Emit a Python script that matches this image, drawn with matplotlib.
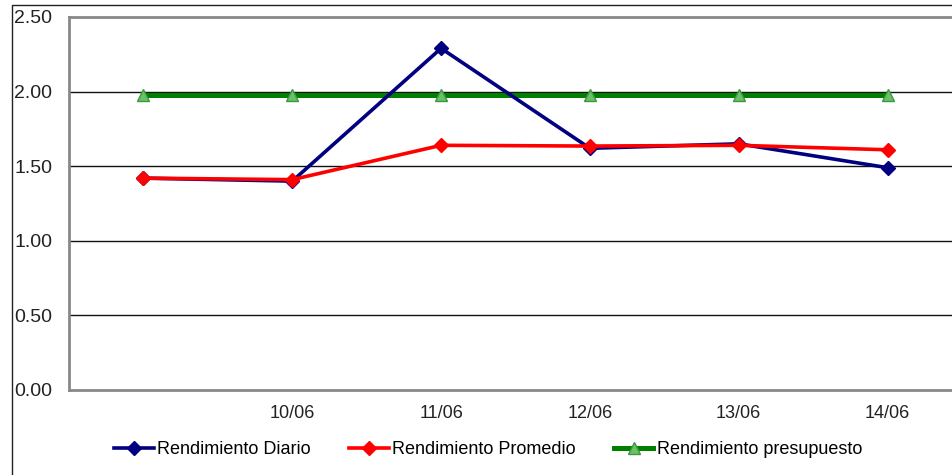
import matplotlib
matplotlib.use("Agg")
import matplotlib.pyplot as plt
from matplotlib.lines import Line2D

plt.rcParams['font.family'] = ['Liberation Sans', 'DejaVu Sans']

# Data
categories = ["", "10/06", "11/06", "12/06", "13/06", "14/06"]
rend_diario = [1.42, 1.40, 2.29, 1.62, 1.65, 1.49]
rend_promedio = [1.42, 1.41, 1.64, 1.635, 1.64, 1.61]
rend_presupuesto = [1.98, 1.98, 1.98, 1.98, 1.98, 1.98]
y_ticks = [0.0, 0.5, 1.0, 1.5, 2.0, 2.5]

W, H = 952, 475
fig = plt.figure(figsize=(W / 100, H / 100), dpi=100)
fig.patch.set_facecolor("white")

# Outer chart frame (left and top edges)
fig.add_artist(Line2D([12 / W, 12 / W, 1.0], [0.0, 1 - 5 / H, 1 - 5 / H],
                      transform=fig.transFigure, color="#222222", lw=1.0))

left, right, top, bottom = 69, 962, 17, 390
ax = fig.add_axes([left / W, 1 - bottom / H, (right - left) / W, (bottom - top) / H])
ax.set_xlim(-0.5, len(categories) - 0.5)
ax.set_ylim(0, 2.5)

x = list(range(len(categories)))
ax.plot(x, rend_presupuesto, color="#008000", lw=3.6, marker="^", markersize=9,
        markerfacecolor="#6cbf6c", markeredgecolor="#3a9a3a", markeredgewidth=1.0,
        label="Rendimiento presupuesto", zorder=3)
ax.plot(x, rend_diario, color="#000080", lw=2.6, marker="D", markersize=7.5,
        markerfacecolor="#000080", markeredgecolor="#000080",
        label="Rendimiento Diario", zorder=4)
ax.plot(x, rend_promedio, color="#ff0000", lw=2.6, marker="D", markersize=7.5,
        markerfacecolor="#ff0000", markeredgecolor="#ff0000",
        label="Rendimiento Promedio", zorder=5)

ax.set_yticks(y_ticks)
ax.set_yticklabels([f"{v:.2f}" for v in y_ticks], fontsize=14, color="#222222")
ax.set_xticks(x)
ax.set_xticklabels(categories, fontsize=13, color="#222222")
ax.tick_params(axis="y", length=0, pad=12)
ax.tick_params(axis="x", length=0, pad=11)

for v in y_ticks[1:-1]:
    ax.axhline(v, color="#111111", lw=1.0, zorder=1)

for side in ("left", "top", "bottom"):
    ax.spines[side].set_color("#888888")
    ax.spines[side].set_linewidth(2.0)
ax.spines["right"].set_visible(False)

handles, labels = ax.get_legend_handles_labels()
order = [1, 2, 0]
leg = fig.legend([handles[i] for i in order], [labels[i] for i in order],
                 loc="center left", bbox_to_anchor=(114 / W, 1 - 450 / H),
                 ncol=3, frameon=False, fontsize=13, handlelength=2.2,
                 handletextpad=0.2, columnspacing=2.1, borderpad=0,
                 borderaxespad=0)

fig.savefig("out.png", dpi=100, facecolor="white")
